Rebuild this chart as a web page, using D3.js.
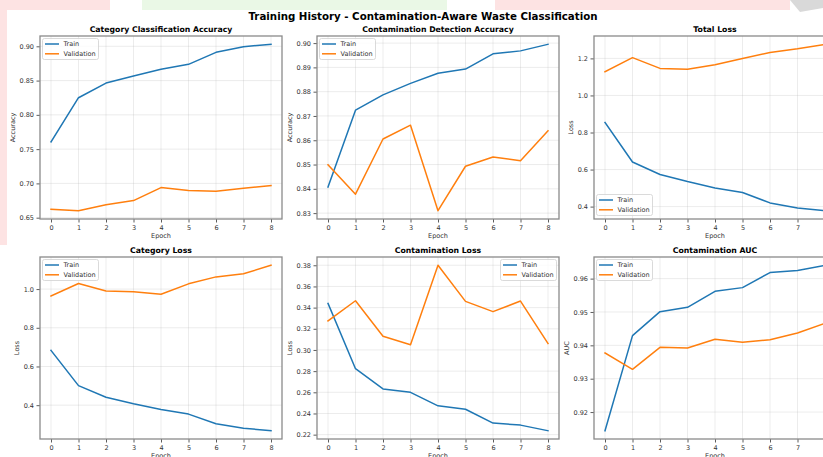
<!DOCTYPE html>
<html>
<head>
<meta charset="utf-8">
<script src="https://cdn.jsdelivr.net/npm/d3@7"></script>
<style>
  html, body { margin: 0; padding: 0; background: #fff; }
  svg { display: block; font-family: "DejaVu Sans", sans-serif; }
</style>
</head>
<body>
<svg id="chart" width="823" height="457"></svg>
<script>
// ---------- data ----------
const epochs = [0, 1, 2, 3, 4, 5, 6, 7, 8];
const seriesNames = ["Train", "Validation"];

const catAccTrain = [0.7606, 0.8250, 0.8464, 0.8566, 0.8664, 0.8737, 0.8912, 0.8995, 0.9029];
const catAccVal   = [0.6622, 0.6602, 0.6690, 0.6749, 0.6939, 0.6895, 0.6885, 0.6929, 0.6968];

const contAccTrain = [0.8407, 0.8724, 0.8787, 0.8834, 0.8876, 0.8893, 0.8956, 0.8968, 0.8995];
const contAccVal   = [0.8499, 0.8378, 0.8605, 0.8662, 0.8310, 0.8493, 0.8531, 0.8516, 0.8639];

const totalLossTrain = [0.854, 0.641, 0.573, 0.535, 0.501, 0.476, 0.420, 0.393, 0.378];
const totalLossVal   = [1.128, 1.204, 1.146, 1.141, 1.166, 1.200, 1.232, 1.252, 1.276];

const catLossTrain = [0.683, 0.501, 0.441, 0.407, 0.378, 0.354, 0.304, 0.281, 0.268];
const catLossVal   = [0.964, 1.029, 0.990, 0.986, 0.973, 1.027, 1.063, 1.079, 1.123];

const contLossTrain = [0.3440, 0.2823, 0.2632, 0.2600, 0.2472, 0.2440, 0.2309, 0.2290, 0.2237];
const contLossVal   = [0.3274, 0.3465, 0.3130, 0.3049, 0.3800, 0.3459, 0.3362, 0.3462, 0.3061];

const aucTrain = [0.9144, 0.9429, 0.9501, 0.9514, 0.9562, 0.9573, 0.9618, 0.9624, 0.9640];
const aucVal   = [0.9377, 0.9328, 0.9394, 0.9392, 0.9418, 0.9409, 0.9417, 0.9437, 0.9466];

const ticksCatAcc   = [0.65, 0.70, 0.75, 0.80, 0.85, 0.90];
const ticksContAcc  = [0.83, 0.84, 0.85, 0.86, 0.87, 0.88, 0.89, 0.90];
const ticksTotLoss  = [0.4, 0.6, 0.8, 1.0, 1.2];
const ticksCatLoss  = [0.4, 0.6, 0.8, 1.0];
const ticksContLoss = [0.22, 0.24, 0.26, 0.28, 0.30, 0.32, 0.34, 0.36, 0.38];
const ticksAuc      = [0.92, 0.93, 0.94, 0.95, 0.96];

const mainTitle = "Training History - Contamination-Aware Waste Classification";
const panelTitles = ["Category Classification Accuracy", "Contamination Detection Accuracy", "Total Loss",
                     "Category Loss", "Contamination Loss", "Contamination AUC"];
const yLabels = ["Accuracy", "Accuracy", "Loss", "Loss", "Loss", "AUC"];
const xLabel = "Epoch";

// ---------- layout / style ----------
const colors = ["#1f77b4", "#ff7f0e"];
const colX = [40, 317, 594];
const rowY = [36, 257];
const panelW = 242;
const rowH = [183, 182];

const panels = [
  { title: panelTitles[0], ylab: yLabels[0], train: catAccTrain,  val: catAccVal,  ticks: ticksCatAcc,  fmt: ".2f", legend: "ul", col: 0, row: 0 },
  { title: panelTitles[1], ylab: yLabels[1], train: contAccTrain, val: contAccVal, ticks: ticksContAcc, fmt: ".2f", legend: "ul", col: 1, row: 0 },
  { title: panelTitles[2], ylab: yLabels[2], train: totalLossTrain, val: totalLossVal, ticks: ticksTotLoss, fmt: ".1f", legend: "ll", col: 2, row: 0 },
  { title: panelTitles[3], ylab: yLabels[3], train: catLossTrain, val: catLossVal, ticks: ticksCatLoss, fmt: ".1f", legend: "ul", col: 0, row: 1 },
  { title: panelTitles[4], ylab: yLabels[4], train: contLossTrain, val: contLossVal, ticks: ticksContLoss, fmt: ".2f", legend: "ur", col: 1, row: 1 },
  { title: panelTitles[5], ylab: yLabels[5], train: aucTrain, val: aucVal, ticks: ticksAuc, fmt: ".2f", legend: "ul", col: 2, row: 1 },
];

const svg = d3.select("#chart");

// background artefacts of the screenshot
const bg = svg.append("g");
bg.append("rect").attr("x", 0).attr("y", 0).attr("width", 110).attr("height", 10).attr("fill", "#fde3e3");
bg.append("rect").attr("x", 142).attr("y", 0).attr("width", 305).attr("height", 10).attr("fill", "#eaf8e6");
bg.append("rect").attr("x", 495).attr("y", 0).attr("width", 295).attr("height", 10).attr("fill", "#fde3e3");
bg.append("path").attr("d", "M790,0 L823,0 L823,8 L800,12 Z").attr("fill", "#d9d9d9");
bg.append("rect").attr("x", 0).attr("y", 0).attr("width", 7).attr("height", 245).attr("fill", "#fde3e3");

svg.append("text")
  .attr("x", 423).attr("y", 16)
  .attr("text-anchor", "middle").attr("dominant-baseline", "central")
  .attr("font-size", 10.25).attr("font-weight", "bold").attr("fill", "#000")
  .text(mainTitle);

const tickFont = 6.5;
panels.forEach(p => {
  const x0 = colX[p.col], y0 = rowY[p.row], w = panelW, h = rowH[p.row];
  const g = svg.append("g").attr("transform", `translate(${x0},${y0})`);

  const x = d3.scaleLinear().domain([-0.4, 8.4]).range([0, w]);
  const ext = d3.extent(p.train.concat(p.val));
  const pad = (ext[1] - ext[0]) * 0.05;
  const y = d3.scaleLinear().domain([ext[0] - pad, ext[1] + pad]).range([h, 0]);

  // grid
  g.append("g").selectAll("line").data(epochs).join("line")
    .attr("x1", d => x(d)).attr("x2", d => x(d)).attr("y1", 0).attr("y2", h)
    .attr("stroke", "#b0b0b0").attr("stroke-opacity", 0.3).attr("stroke-width", 0.8);
  g.append("g").selectAll("line").data(p.ticks).join("line")
    .attr("x1", 0).attr("x2", w).attr("y1", d => y(d)).attr("y2", d => y(d))
    .attr("stroke", "#b0b0b0").attr("stroke-opacity", 0.3).attr("stroke-width", 0.8);

  // axes
  const xa = g.append("g").attr("transform", `translate(0,${h})`)
    .call(d3.axisBottom(x).tickValues(epochs).tickFormat(d3.format("d")).tickSize(3.5).tickPadding(2.5));
  const ya = g.append("g")
    .call(d3.axisLeft(y).tickValues(p.ticks).tickFormat(d3.format(p.fmt)).tickSize(3.5).tickPadding(2.5));
  [xa, ya].forEach(a => {
    a.select(".domain").remove();
    a.selectAll("line").attr("stroke", "#333").attr("stroke-width", 0.8);
    a.selectAll("text").attr("font-size", tickFont).attr("fill", "#333").attr("font-family", "DejaVu Sans");
  });

  // lines
  const line = d3.line().x((d, i) => x(epochs[i])).y(d => y(d));
  [p.train, p.val].forEach((s, k) => {
    g.append("path").datum(s).attr("d", line)
      .attr("fill", "none").attr("stroke", colors[k]).attr("stroke-width", 1.5)
      .attr("stroke-linejoin", "round").attr("stroke-linecap", "square");
  });

  // frame
  g.append("rect").attr("x", 0).attr("y", 0).attr("width", w).attr("height", h)
    .attr("fill", "none").attr("stroke", "#8a8a8a").attr("stroke-width", 1.3);

  // title
  g.append("text").attr("x", w / 2).attr("y", -4.5)
    .attr("text-anchor", "middle").attr("font-size", 7.75).attr("font-weight", "bold").attr("fill", "#000")
    .text(p.title);

  // axis labels
  g.append("text").attr("x", w / 2).attr("y", h + 18.5)
    .attr("text-anchor", "middle").attr("font-size", tickFont).attr("fill", "#333").text(xLabel);
  let maxW = 0;
  ya.selectAll("text").each(function () { maxW = Math.max(maxW, this.getBBox().width); });
  const lx = -3.5 - 2.5 - maxW - 5;
  g.append("text").attr("transform", `translate(${lx},${h / 2}) rotate(-90)`)
    .attr("text-anchor", "middle").attr("font-size", tickFont).attr("fill", "#333").text(p.ylab);

  // legend
  const lw = 56, lh = 21;
  let lxp, lyp;
  if (p.legend === "ul") { lxp = 2.5; lyp = 2.5; }
  else if (p.legend === "ur") { lxp = w - lw - 2.5; lyp = 2.5; }
  else { lxp = 2.5; lyp = h - lh - 3.5; }
  const lg = g.append("g").attr("transform", `translate(${lxp},${lyp})`);
  lg.append("rect").attr("width", lw).attr("height", lh).attr("rx", 2)
    .attr("fill", "#fff").attr("fill-opacity", 0.8).attr("stroke", "#d0d0d0").attr("stroke-width", 0.8);
  seriesNames.forEach((name, k) => {
    const yy = 5.5 + k * 9.8;
    lg.append("line").attr("x1", 2.5).attr("x2", 16.5).attr("y1", yy).attr("y2", yy)
      .attr("stroke", colors[k]).attr("stroke-width", 1.5);
    lg.append("text").attr("x", 21).attr("y", yy).attr("dominant-baseline", "central")
      .attr("font-size", tickFont).attr("fill", "#333").text(name);
  });
});
</script>
</body>
</html>
